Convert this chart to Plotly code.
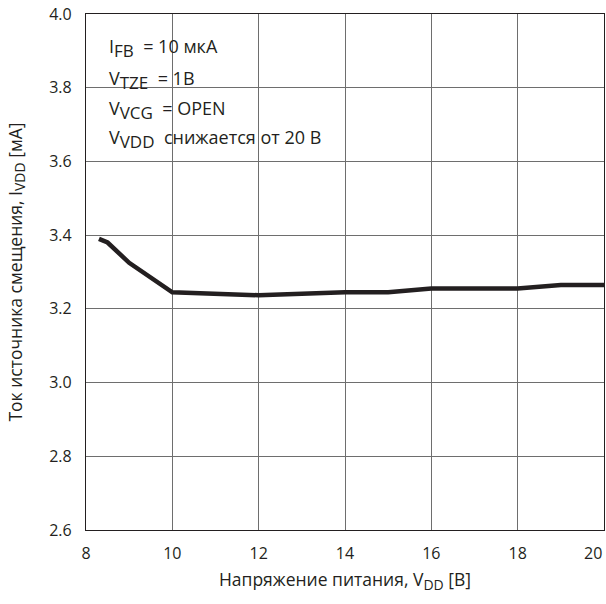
import plotly.graph_objects as go

# Supply voltage V_DD (V) and bias current I_VDD (mA)
vdd = [8.3, 8.5, 9.0, 10.0, 12.0, 14.0, 15.0, 16.0, 18.0, 19.0, 20.0]
idd = [3.39, 3.38, 3.325, 3.245, 3.237, 3.245, 3.245, 3.255, 3.255, 3.265, 3.265]

x_ticks = [8, 10, 12, 14, 16, 18, 20]
y_ticks = [2.6, 2.8, 3.0, 3.2, 3.4, 3.6, 3.8, 4.0]

SUB = '<sub><span style="font-size:{}px">{}</span></sub>'
conditions = [
    "I" + SUB.format(17, "FB") + "  = 10 мкА",
    "V" + SUB.format(17, "TZE") + "  = 1В",
    "V" + SUB.format(17, "VCG") + "  = OPEN",
    "V" + SUB.format(17, "VDD") + "  снижается от 20 В",
]

FONT = "Open Sans"
TXT = "#231f20"

fig = go.Figure()
fig.add_trace(go.Scatter(
    x=vdd, y=idd, mode="lines",
    line=dict(color="#231f20", width=4.5),
    showlegend=False, hoverinfo="skip",
))

# white panel behind the test conditions, hiding the grid
fig.add_shape(type="rect", xref="paper", yref="paper",
              x0=0.024, x1=0.595, y0=0.724, y1=0.983,
              fillcolor="white", line=dict(width=0), layer="between")

line_y = [0.935, 0.873, 0.813, 0.757]
for txt, yy in zip(conditions, line_y):
    fig.add_annotation(text=txt, xref="paper", yref="paper",
                       x=0.04, y=yy, xanchor="left", yanchor="middle",
                       showarrow=False, font=dict(family=FONT, size=18, color=TXT))

axis_common = dict(
    showgrid=True, gridcolor="#6e6e6e", gridwidth=1.2,
    showline=True, linecolor="#231f20", linewidth=1.2, mirror=True,
    ticks="", zeroline=False, automargin=False,
    tickfont=dict(family=FONT, size=16, color=TXT),
)

# the last x label sits at the right edge, so it is right-aligned to its tick
x_text = [str(v) for v in x_ticks[:-1]] + [""]
fig.update_xaxes(range=[8, 20], tickvals=x_ticks, ticktext=x_text,
                 ticklabelstandoff=9,
                 title=dict(text="Напряжение питания, V" + SUB.format(14, "DD") + " [В]",
                            font=dict(family=FONT, size=17.5, color=TXT), standoff=10),
                 **axis_common)
fig.add_annotation(text=str(x_ticks[-1]), x=x_ticks[-1], xref="x",
                   y=0, yref="paper", yshift=-23, xanchor="right", yanchor="middle",
                   showarrow=False, font=dict(family=FONT, size=16, color=TXT))

fig.update_yaxes(range=[2.6, 4.0], tickvals=y_ticks,
                 ticktext=[f"{v:.1f}" for v in y_ticks], ticklabelstandoff=10,
                 title=dict(text="Ток источника смещения, I" + SUB.format(14, "VDD") + " [мА]",
                            font=dict(family=FONT, size=17.5, color=TXT), standoff=22),
                 **axis_common)

fig.update_layout(
    width=606, height=604,
    margin=dict(l=86, r=2, t=14, b=74),
    plot_bgcolor="white", paper_bgcolor="white",
)

fig.write_html("out.html")
